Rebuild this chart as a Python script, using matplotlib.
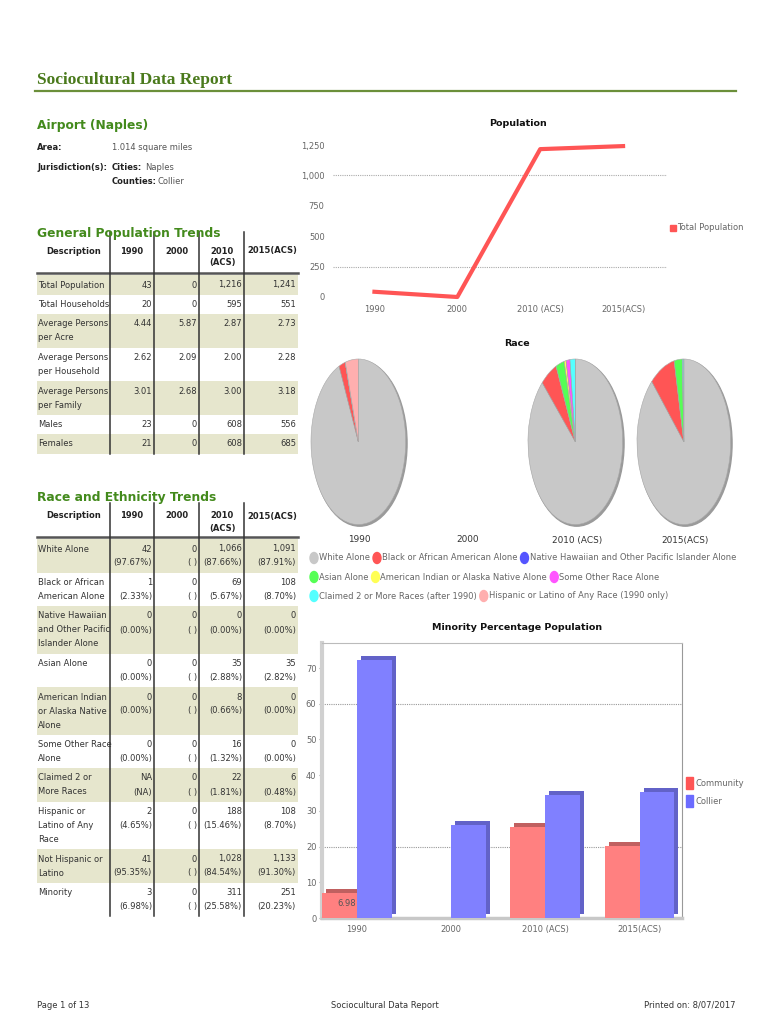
import matplotlib
matplotlib.use("Agg")
import matplotlib.pyplot as plt
from matplotlib import font_manager
from matplotlib.patches import Rectangle, Ellipse
from matplotlib.transforms import ScaledTranslation
import numpy as np

W, H = 770, 1024

# ---------------- data ----------------
place = "Airport (Naples)"
area_text = "1.014 square miles"
cities = "Naples"
counties = "Collier"

years = ["1990", "2000", "2010 (ACS)", "2015(ACS)"]
total_pop = [43, 0, 1216, 1241]

gen_desc = ["Total Population", "Total Households", "Average Persons\nper Acre",
            "Average Persons\nper Household", "Average Persons\nper Family", "Males", "Females"]
gen_1990 = ["43", "20", "4.44", "2.62", "3.01", "23", "21"]
gen_2000 = ["0", "0", "5.87", "2.09", "2.68", "0", "0"]
gen_2010 = ["1,216", "595", "2.87", "2.00", "3.00", "608", "608"]
gen_2015 = ["1,241", "551", "2.73", "2.28", "3.18", "556", "685"]

race_desc = ["White Alone", "Black or African\nAmerican Alone",
             "Native Hawaiian\nand Other Pacific\nIslander Alone", "Asian Alone",
             "American Indian\nor Alaska Native\nAlone", "Some Other Race\nAlone",
             "Claimed 2 or\nMore Races", "Hispanic or\nLatino of Any\nRace",
             "Not Hispanic or\nLatino", "Minority"]
race_1990_n = ["42", "1", "0", "0", "0", "0", "NA", "2", "41", "3"]
race_1990_p = ["97.67%", "2.33%", "0.00%", "0.00%", "0.00%", "0.00%", "NA", "4.65%", "95.35%", "6.98%"]
race_2000_n = ["0"] * 10
race_2000_p = [""] * 10
race_2010_n = ["1,066", "69", "0", "35", "8", "16", "22", "188", "1,028", "311"]
race_2010_p = ["87.66%", "5.67%", "0.00%", "2.88%", "0.66%", "1.32%", "1.81%", "15.46%", "84.54%", "25.58%"]
race_2015_n = ["1,091", "108", "0", "35", "0", "0", "6", "108", "1,133", "251"]
race_2015_p = ["87.91%", "8.70%", "0.00%", "2.82%", "0.00%", "0.00%", "0.48%", "8.70%", "91.30%", "20.23%"]

pie_labels = ["White Alone", "Black or African American Alone",
              "Native Hawaiian and Other Pacific Islander Alone", "Asian Alone",
              "American Indian or Alaska Native Alone", "Some Other Race Alone",
              "Claimed 2 or More Races (after 1990)", "Hispanic or Latino of Any Race (1990 only)"]
pie_1990 = [42, 1, 0, 0, 0, 0, 0, 2]
pie_2000 = [0, 0, 0, 0, 0, 0, 0, 0]
pie_2010 = [1066, 69, 0, 35, 8, 16, 22, 0]
pie_2015 = [1091, 108, 0, 35, 0, 0, 6, 0]

minority_community = [6.98, 0.0, 25.58, 20.23]
minority_collier = [72.3, 26.0, 34.5, 35.3]

# ---------------- fonts ----------------
names = {f.name for f in font_manager.fontManager.ttflist}
if "Liberation Sans Narrow" in names:
    SANS = ["Liberation Sans Narrow", "DejaVu Sans"]
    K = 1.0
else:
    SANS = ["DejaVu Sans"]
    K = 0.8
SERIF = ["Liberation Serif", "DejaVu Serif"]

GREEN_T = "#4a7a1c"
GREEN_S = "#438a1c"
SHADE = "#e6e6cd"
GREY = "#555555"

fig = plt.figure(figsize=(7.7, 10.24), dpi=100)
pg = fig.add_axes([0, 0, 1, 1])
pg.set_xlim(0, W)
pg.set_ylim(H, 0)
pg.axis("off")
renderer = fig.canvas.get_renderer()


def rect(l, t, r, b):
    return [l / W, 1 - b / H, (r - l) / W, (b - t) / H]


def txt(x, y, s, size=7.5, **kw):
    kw.setdefault("va", "center")
    kw.setdefault("family", SANS)
    return pg.text(x, y, s, fontsize=size * K, **kw)


def width(t):
    return t.get_window_extent(renderer).width


# ---------------- header ----------------
pg.text(37, 80, "Sociocultural Data Report", fontsize=12.5, family=SERIF,
        weight="bold", color=GREEN_T, va="center")
pg.plot([35, 736], [91, 91], color="#6b8f3a", lw=1.6)

txt(37, 126, place, size=11, weight="bold", color=GREEN_S)
txt(37, 147, "Area:", weight="bold", color="#222222")
txt(112, 147, area_text, color=GREY)
txt(37, 167, "Jurisdiction(s):", weight="bold", color="#222222")
t = txt(112, 167, "Cities:", weight="bold", color="#222222")
txt(112 + width(t) + 3, 167, cities, color=GREY)
t = txt(112, 181, "Counties:", weight="bold", color="#222222")
txt(112 + width(t) + 1, 181, counties, color=GREY)

# ---------------- tables ----------------
col_sep = [110, 154, 199, 244]
col_right = [154, 199, 244, 298]
head_x = [74, 132, 177, 222, 272]
head_lab = ["Description", "1990", "2000", "2010\n(ACS)", "2015(ACS)"]


def draw_table(line_top, head_y, line_y, desc, cols, min_lines):
    for hx, hl in zip(head_x, head_lab):
        for i, part in enumerate(hl.split("\n")):
            txt(hx, head_y + i * 12, part, weight="bold", ha="center", color="#222222")
    top = line_y + 2
    for r, d in enumerate(desc):
        cells = [c[r] for c in cols]
        n = max([d.count("\n") + 1, min_lines] + [c.count("\n") + 1 for c in cells])
        h = 5.5 + 14 * n
        if r % 2 == 0:
            pg.add_patch(Rectangle((37, top), 261, h, color=SHADE, lw=0, zorder=0))
        for i, part in enumerate(d.split("\n")):
            txt(38, top + 10 + 14 * i, part, color="#333333")
        for xr, c in zip(col_right, cells):
            for i, part in enumerate(c.split("\n")):
                txt(xr - 2, top + 10 + 14 * i, part, ha="right", color="#333333")
        top += h
    pg.plot([37, 298], [line_y, line_y], color="#555555", lw=1.8)
    for x in col_sep:
        pg.plot([x, x], [line_top, top], color="#333333", lw=1.1)
    return top


txt(37, 233, "General Population Trends", size=11, weight="bold", color=GREEN_S)
draw_table(232, 251, 273, gen_desc, [gen_1990, gen_2000, gen_2010, gen_2015], 1)


def pct_cells(ns, ps):
    return [f"{n}\n({p})" if p else f"{n}\n( )" for n, p in zip(ns, ps)]


txt(37, 497, "Race and Ethnicity Trends", size=11, weight="bold", color=GREEN_S)
draw_table(503, 516, 537, race_desc,
           [pct_cells(race_1990_n, race_1990_p), pct_cells(race_2000_n, race_2000_p),
            pct_cells(race_2010_n, race_2010_p), pct_cells(race_2015_n, race_2015_p)], 2)

# ---------------- population line chart ----------------
ax1 = fig.add_axes(rect(333, 145, 667, 297))
ax1.plot(range(len(years)), total_pop, color="#ff5555", lw=3, clip_on=False)
ax1.set_ylim(0, 1250)
ax1.set_xlim(-0.5, 3.53)
ax1.set_yticks([0, 250, 500, 750, 1000, 1250])
ax1.set_yticklabels(["0", "250", "500", "750", "1,000", "1,250"])
ax1.set_xticks(range(len(years)))
ax1.set_xticklabels(years)
for v in [250, 1000]:
    ax1.axhline(v, color="#aaaaaa", lw=0.8, ls=(0, (1, 1)), zorder=0)
ax1.tick_params(length=0, labelsize=7.5 * K, labelcolor="#666666", pad=6)
for lab in ax1.get_xticklabels() + ax1.get_yticklabels():
    lab.set_family(SANS)
for s in ax1.spines.values():
    s.set_visible(False)
ax1.patch.set_alpha(0)
txt(518, 124, "Population", size=8.5, weight="bold", ha="center", color="#111111")
pg.add_patch(Rectangle((670, 225), 6, 6, color="#ff5555"))
txt(677, 228, "Total Population", size=7.5, color="#666666")

# ---------------- race pies ----------------
txt(517, 343, "Race", size=8.5, weight="bold", ha="center", color="#111111")
pie_colors = ["#c8c8c8", "#ff5555", "#5555ff", "#55ff55", "#ffff55", "#ff55ff", "#55ffff", "#ffafaf"]
pie_boxes = [(311, 408), None, (528, 625), (637, 733)]
pie_centers = [359, 468, 577, 685]
for vals, box in zip([pie_1990, pie_2000, pie_2010, pie_2015], pie_boxes):
    if box is None or sum(vals) == 0:
        continue
    axp = fig.add_axes(rect(box[0], 359, box[1], 527))
    axp.add_patch(Ellipse((0.03, -0.02), 2.0, 2.0, color="#9a9a9a", zorder=0))
    axp.pie(vals, colors=pie_colors, startangle=90, counterclock=False,
            wedgeprops=dict(edgecolor="#a8a8a8", linewidth=0.4))
    axp.set_aspect("auto")
    axp.set_xlim(-1.0, 1.05)
    axp.set_ylim(-1.03, 1.0)
    axp.axis("off")
for cx, y in zip(pie_centers, years):
    txt(cx, 540, y, size=8, ha="center", color="#333333")

rows = [[0, 1, 2], [3, 4, 5], [6, 7]]
for ri, row in enumerate(rows):
    x = 310
    y = 558 + 19 * ri
    for i in row:
        pg.add_patch(Ellipse((x + 4, y), 8, 11, color=pie_colors[i]))
        tt = txt(x + 9, y, pie_labels[i], size=7.5, color="#666666")
        x += 9 + width(tt) + 3

# ---------------- minority bar chart ----------------
txt(517, 628, "Minority Percentage Population", size=8.5, weight="bold", ha="center", color="#111111")
ax3 = fig.add_axes(rect(322, 643, 682, 918))
xs = np.arange(len(years))
bw = 0.37
off = ScaledTranslation(4 / 100, 4 / 100, fig.dpi_scale_trans)
ax3.bar(xs - bw / 2, minority_community, bw, color="#c06060", transform=ax3.transData + off, zorder=2)
ax3.bar(xs + bw / 2, minority_collier, bw, color="#6262c8", transform=ax3.transData + off, zorder=2)
ax3.bar(xs - bw / 2, minority_community, bw, color="#ff8080", zorder=3)
ax3.bar(xs + bw / 2, minority_collier, bw, color="#8080ff", zorder=3)
ax3.text(xs[0] - bw / 2 + 0.08, minority_community[0] * 0.6, f"{minority_community[0]:.2f}",
         ha="center", va="center", fontsize=7.5 * K, family=SANS, color="#555555", zorder=4)
ax3.set_ylim(0, 77)
ax3.set_xlim(-0.37, 3.45)
ax3.set_yticks(range(0, 80, 10))
ax3.set_xticks(xs)
ax3.set_xticklabels(years)
for v in [20, 60]:
    ax3.axhline(v, color="#999999", lw=0.8, ls=(0, (1, 1)), zorder=1)
ax3.tick_params(axis="y", length=2, color="#999999", labelsize=7.5 * K, labelcolor="#666666", pad=2)
ax3.tick_params(axis="x", length=0, labelsize=7.5 * K, labelcolor="#666666", pad=5)
for lab in ax3.get_xticklabels() + ax3.get_yticklabels():
    lab.set_family(SANS)
ax3.spines["left"].set_color("#d0d0d0")
ax3.spines["left"].set_linewidth(3)
ax3.spines["top"].set_color("#bbbbbb")
ax3.spines["right"].set_color("#999999")
ax3.spines["bottom"].set_color("#c8c8c8")
ax3.spines["bottom"].set_linewidth(2.5)
pg.add_patch(Rectangle((686, 777), 7, 12, color="#ff5555"))
pg.add_patch(Rectangle((686, 795), 7, 12, color="#6b6bff"))
txt(695, 783, "Community", size=7.5, color="#666666")
txt(695, 801, "Collier", size=7.5, color="#666666")

# ---------------- footer ----------------
txt(37, 1005, "Page 1 of 13", size=7.5, color="#333333")
txt(385, 1005, "Sociocultural Data Report", size=7.5, ha="center", color="#333333")
txt(735, 1005, "Printed on: 8/07/2017", size=7.5, ha="right", color="#333333")

fig.savefig("out.png", dpi=100)
